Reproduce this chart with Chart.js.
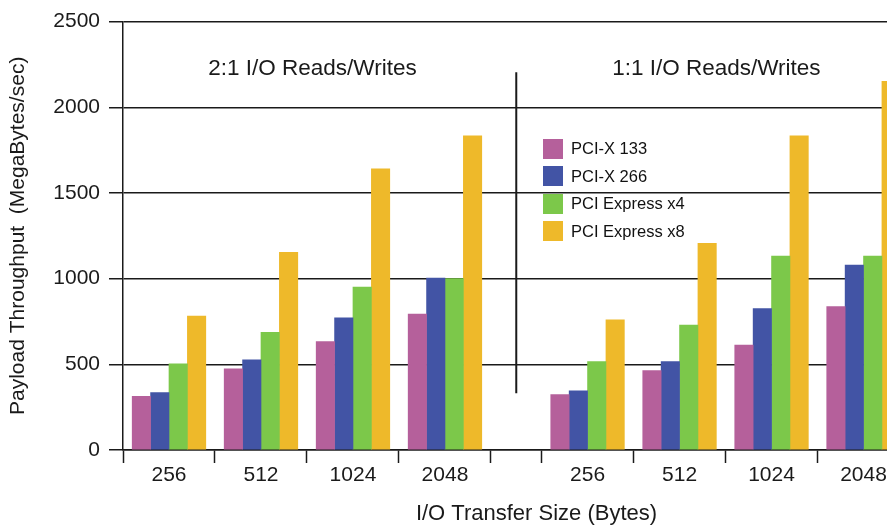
<!DOCTYPE html>
<html>
<head>
<meta charset="utf-8">
<script src="https://cdn.jsdelivr.net/npm/chart.js@4/dist/chart.umd.min.js"></script>
<style>
  body { margin: 0; background: #fff; }
  #wrap { position: relative; width: 887px; height: 527px; overflow: hidden; font-family: "Liberation Sans", Arial, sans-serif; }
  #chart { position: absolute; left: 0; top: 0; }
  #legend { position: absolute; left: 543px; top: 135px; font-size: 16.5px; color: #111; }
  #legend div { display: flex; align-items: center; height: 27.5px; }
  #legend span.box { width: 20px; height: 20px; margin-right: 8px; display: inline-block; }
</style>
</head>
<body>
<div id="wrap">
  <canvas id="chart" width="970" height="527"></canvas>
  <div id="legend"></div>
</div>
<script>
// Data
const sizes = ["256", "512", "1024", "2048"];
const modes = ["2:1 I/O Reads/Writes", "1:1 I/O Reads/Writes"];
const seriesNames = ["PCI-X 133", "PCI-X 266", "PCI Express x4", "PCI Express x8"];
const seriesColors = ["#b5609b", "#4254a5", "#7cc84a", "#eeb92a"];
// first four values: 2:1 mode, last four: 1:1 mode
const pcix133 = [313, 474, 632, 793, 323, 464, 613, 837];
const pcix266 = [335, 526, 771, 1003, 346, 516, 825, 1079];
const pcie4 = [503, 686, 951, 1000, 516, 729, 1131, 1131];
const pcie8 = [781, 1154, 1641, 1833, 760, 1206, 1833, 2151];
const dividerRange = [331, 2204];
const yTicks = [0, 500, 1000, 1500, 2000, 2500];

const gapWidth = 0.55; // empty slot between the two modes, in category units
const cropExtra = 0.44; // the source picture is cut off on the right
const textColor = "#1a1a1a";
const lineColor = "#1a1a1a";

// category slot layout on a linear axis
const groupStart = (m) => m * (sizes.length + gapWidth);
const centers = [];
const boundaries = [];
const labelAt = {};
modes.forEach((mode, m) => {
  sizes.forEach((s, i) => {
    const c = groupStart(m) + i + 0.5;
    centers.push(c);
    labelAt[c.toFixed(3)] = s;
    boundaries.push(groupStart(m) + i);
  });
  boundaries.push(groupStart(m) + sizes.length);
});
const xMax = groupStart(modes.length - 1) + sizes.length + cropExtra;
const dividerX = sizes.length + gapWidth / 2;
const tickValues = [...boundaries, ...centers].sort((a, b) => a - b);
const isBoundary = (v) => boundaries.some((b) => Math.abs(b - v) < 1e-6);

const seriesValues = [pcix133, pcix266, pcie4, pcie8];

const datasets = seriesValues.map((vals, k) => ({
  type: "bar",
  label: seriesNames[k],
  data: vals.map((v, i) => ({ x: centers[i], y: v })),
  backgroundColor: seriesColors[k],
  borderWidth: 0,
  barThickness: 18.4,
}));

datasets.push({
  type: "line",
  label: "divider",
  data: dividerRange.map((v) => ({ x: dividerX, y: v })),
  borderColor: lineColor,
  borderWidth: 2,
  pointRadius: 0,
});

/* Mode titles drawn at data positions */
const modeTitles = {
  id: "modeTitles",
  afterDatasetsDraw(chart, args, opts) {
    const { ctx, scales } = chart;
    ctx.save();
    ctx.font = "22.5px 'Liberation Sans', Arial, sans-serif";
    ctx.fillStyle = textColor;
    ctx.textAlign = "center";
    ctx.textBaseline = "middle";
    modes.forEach((mode, m) => {
      const x = scales.x.getPixelForValue(groupStart(m) + opts.offsets[m]);
      const y = scales.y.getPixelForValue(opts.yValue);
      ctx.fillText(mode, x, y);
    });
    ctx.restore();
  },
};

new Chart(document.getElementById("chart"), {
  data: { datasets },
  plugins: [modeTitles],
  options: {
    responsive: false,
    animation: false,
    layout: { padding: { top: 19, right: 20, left: 0, bottom: 0 } },
    plugins: {
      legend: { display: false },
      tooltip: { enabled: false },
      modeTitles: { offsets: [2.06, 1.9], yValue: 2227 },
    },
    scales: {
      x: {
        type: "linear",
        min: 0,
        max: xMax,
        offset: false,
        afterBuildTicks: (scale) => {
          scale.ticks = tickValues.map((v) => ({ value: v }));
        },
        afterFit: (scale) => { scale.height = 77; },
        ticks: {
          autoSkip: false,
          maxRotation: 0,
          padding: 0,
          color: textColor,
          font: { family: "'Liberation Sans', Arial, sans-serif", size: 21 },
          callback: (v) => labelAt[Number(v).toFixed(3)] || "",
        },
        grid: {
          offset: false,
          drawOnChartArea: false,
          tickLength: 13,
          tickWidth: 1.5,
          tickColor: (ctx) => (ctx.tick && isBoundary(ctx.tick.value) ? lineColor : "rgba(0,0,0,0)"),
        },
        border: { color: lineColor, width: 1.5 },
        title: {
          display: true,
          text: "I/O Transfer Size (Bytes)",
          color: textColor,
          padding: 0,
          font: { family: "'Liberation Sans', Arial, sans-serif", size: 22 },
        },
      },
      y: {
        min: 0,
        max: 2500,
        afterBuildTicks: (scale) => {
          scale.ticks = yTicks.map((v) => ({ value: v }));
        },
        afterFit: (scale) => { scale.width = 123; },
        ticks: {
          padding: 9,
          color: textColor,
          font: { family: "'Liberation Sans', Arial, sans-serif", size: 21 },
          callback: (v) => String(v),
        },
        grid: {
          color: lineColor,
          lineWidth: 1.5,
          tickLength: 14,
        },
        border: { color: lineColor, width: 1.5 },
        title: {
          display: true,
          text: "Payload Throughput  (MegaBytes/sec)",
          color: textColor,
          padding: { top: 6, bottom: 0 },
          font: { family: "'Liberation Sans', Arial, sans-serif", size: 21 },
        },
      },
    },
  },
});

/* HTML legend */
document.getElementById("legend").innerHTML = seriesNames
  .map((name, k) => `<div><span class="box" style="background:${seriesColors[k]}"></span>${name}</div>`)
  .join("");
</script>
</body>
</html>
